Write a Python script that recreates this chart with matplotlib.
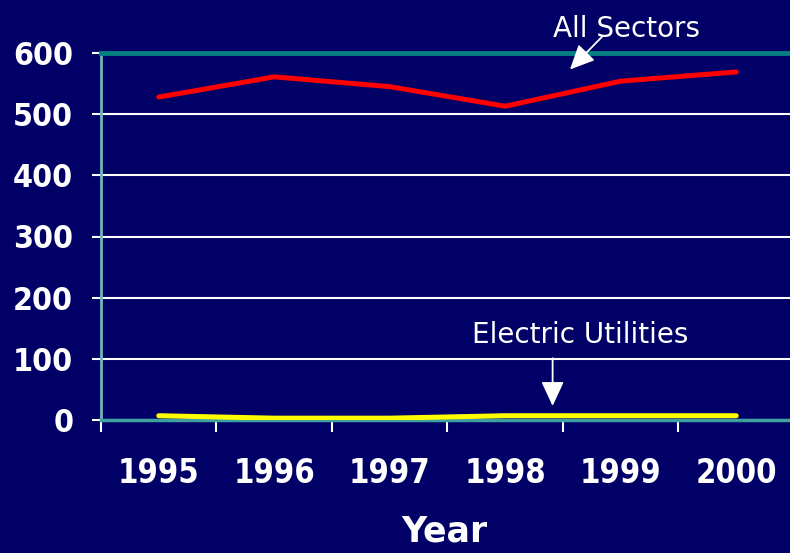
import matplotlib
matplotlib.use("Agg")
import matplotlib.pyplot as plt
from matplotlib.ticker import FixedLocator

years = ["1995", "1996", "1997", "1998", "1999", "2000"]
all_sectors = [528, 561, 545, 513, 554, 569]
electric_utilities = [7, 3, 3, 7, 7, 7]
y_ticks = [0, 100, 200, 300, 400, 500, 600]

BG = "#000066"
TEAL = "#008080"

fig = plt.figure(figsize=(7.9, 5.53), dpi=100, facecolor=BG)
ax = fig.add_axes([101/790, 133/553, 1 - 101/790, 367/553])
ax.set_facecolor(BG)

x = list(range(len(years)))
ax.plot(x, all_sectors, color="#FF0000", lw=3.6, solid_capstyle="round", zorder=4)
ax.plot(x, electric_utilities, color="#FFFF00", lw=3.6, solid_capstyle="round", zorder=4)

ax.set_ylim(0, 600)
ax.set_xlim(-0.5, -0.5 + 689/115.5)

ax.set_yticks(y_ticks)
ax.set_yticklabels([str(v) for v in y_ticks])
ax.set_xticks(x)
ax.set_xticklabels(years)
ax.xaxis.set_minor_locator(FixedLocator([i - 0.5 for i in range(len(years) + 1)]))

font = dict(family="DejaVu Sans", weight="bold", stretch="condensed")
for lab in ax.get_yticklabels():
    lab.set_fontproperties(matplotlib.font_manager.FontProperties(size=23, **font))
    lab.set_color("white")
for lab in ax.get_xticklabels():
    lab.set_fontproperties(matplotlib.font_manager.FontProperties(size=23.5, **font))
    lab.set_color("white")

ax.tick_params(axis="y", which="major", length=6.5, width=1.5, color="white", pad=13.5)
ax.tick_params(axis="x", which="major", length=0, pad=26.5)
ax.tick_params(axis="x", which="minor", length=8.5, width=1.5, color="white")

ax.grid(axis="y", color="white", lw=1.5, zorder=1)
ax.set_axisbelow(True)

ax.spines["right"].set_visible(False)
ax.spines["top"].set_color(TEAL)
ax.spines["top"].set_linewidth(3.5)
ax.spines["left"].set_color("#70b8b8")
ax.spines["left"].set_linewidth(2)
ax.spines["bottom"].set_color("#40a0a0")
ax.spines["bottom"].set_linewidth(2.5)

# annotations
ax.annotate("", xy=(3.56, 573), xytext=(3.84, 627), annotation_clip=False,
            arrowprops=dict(arrowstyle="-|>,head_length=1.5,head_width=0.7",
                            color="white", lw=1.3, shrinkA=0, shrinkB=0), zorder=6)
ax.text(4.05, 626, "All Sectors", color="white", fontsize=20, ha="center",
        va="baseline", family="DejaVu Sans", clip_on=False)

ax.annotate("", xy=(3.41, 23), xytext=(3.41, 101), annotation_clip=False,
            arrowprops=dict(arrowstyle="-|>,head_length=1.5,head_width=0.7",
                            color="white", lw=1.3, shrinkA=0, shrinkB=0), zorder=6)
ax.text(3.65, 126, "Electric Utilities", color="white", fontsize=20, ha="center",
        va="baseline", family="DejaVu Sans")

fig.text(444/790, 1 - 532/553, "Year", color="white", fontsize=25, weight="bold",
         ha="center", va="center", family="DejaVu Sans")

fig.savefig("out.png", dpi=100, facecolor=BG)
